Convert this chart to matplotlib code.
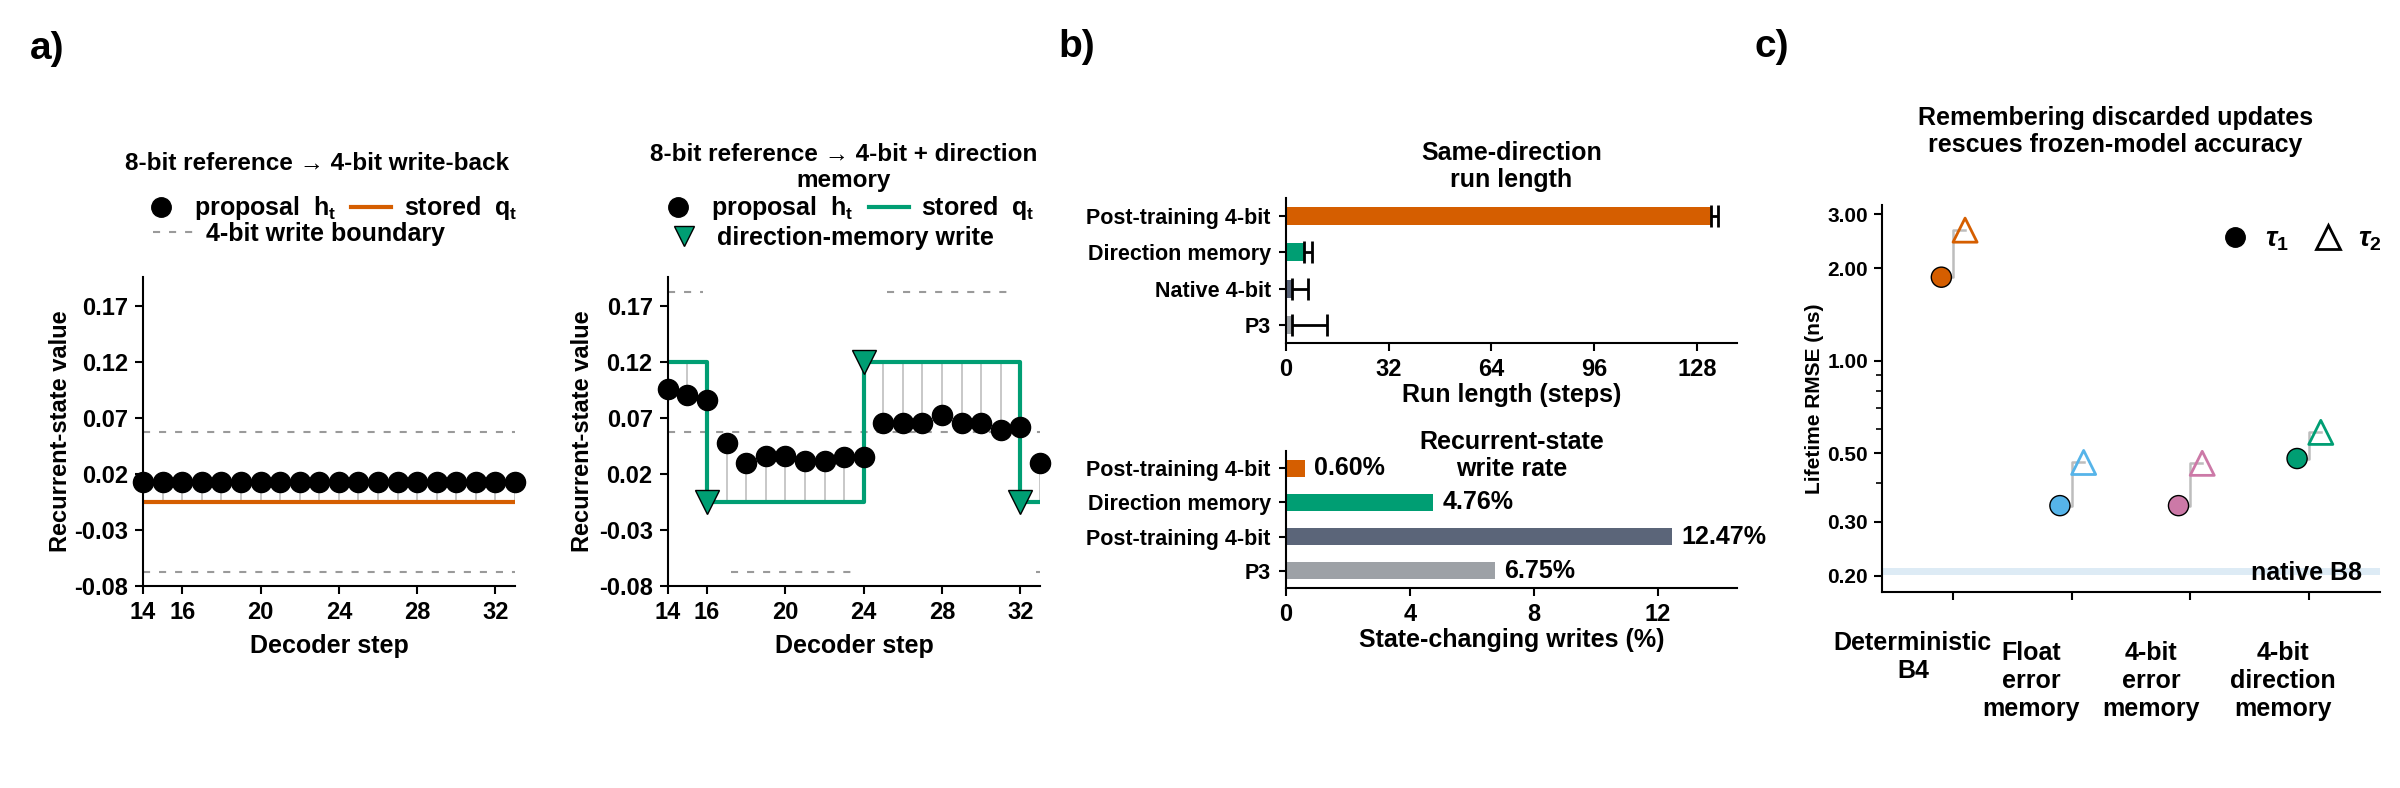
import numpy as np
import matplotlib
matplotlib.use('Agg')
import matplotlib.pyplot as plt
from matplotlib.lines import Line2D
from matplotlib.ticker import FixedLocator, NullFormatter, FormatStrFormatter

plt.rcParams['font.family'] = ['Liberation Sans', 'DejaVu Sans']
plt.rcParams['font.weight'] = 'bold'
plt.rcParams['axes.labelweight'] = 'bold'
plt.rcParams['axes.titleweight'] = 'bold'
plt.rcParams['axes.unicode_minus'] = False
plt.rcParams['mathtext.fontset'] = 'custom'
plt.rcParams['mathtext.rm'] = 'Liberation Sans:bold'
plt.rcParams['mathtext.bf'] = 'Liberation Sans:bold'
plt.rcParams['mathtext.it'] = 'Liberation Sans:italic'
plt.rcParams['axes.linewidth'] = 1.5

# ---- data ----
steps = np.arange(14, 34)
prop_wb = [0.013] * 20
stored_wb = [-0.005] * 20
bounds_wb = [(0.0575, 14, 33), (-0.0675, 14, 33)]

prop_dm = [0.096, 0.091, 0.086, 0.048, 0.030, 0.036, 0.036, 0.032, 0.032, 0.035,
           0.0355, 0.066, 0.066, 0.066, 0.073, 0.066, 0.066, 0.059, 0.062, 0.030]
stored_dm = [0.12, 0.12] + [-0.005] * 8 + [0.12] * 8 + [-0.005, -0.005]
write_steps = [16, 24, 32]
bounds_dm = [(0.1825, 14, 15.8), (0.1825, 25.2, 31.6), (0.0575, 14, 33),
             (-0.0675, 17.2, 23.6), (-0.0675, 32.8, 33)]

run_labels = ['Post-training 4-bit', 'Direction memory', 'Native 4-bit', 'P3']
run_len = [132.4, 5.7, 1.8, 1.8]
run_err = [2.2, 2.4, 5.1, 11.0]
rate_labels = ['Post-training 4-bit', 'Direction memory', 'Post-training 4-bit', 'P3']
rate_vals = [0.60, 4.76, 12.47, 6.75]
bar_colors = ['#D55E00', '#009E73', '#5B6579', '#9DA1A6']

methods = ['Deterministic\nB4', 'Float\nerror\nmemory', '4-bit\nerror\nmemory',
           '4-bit\ndirection\nmemory']
tau1 = [1.87, 0.338, 0.338, 0.481]
tau2 = [2.66, 0.467, 0.464, 0.585]
method_colors = ['#D55E00', '#56B4E9', '#CC79A7', '#009E73']
native_b8 = (0.2015, 0.212)

ORANGE = '#D55E00'
GREEN = '#009E73'
STEM = '#C4C4C4'
DASH = '#9A9A9A'
DASHES = (0, (3.4, 4.3))

fig = plt.figure(figsize=(24, 7.88), dpi=100)


def state_panel(ax, prop, stored, color, bounds):
    ax.vlines(steps, prop, stored, colors=STEM, lw=1.3, zorder=1)
    for lvl, x0, x1 in bounds:
        ax.hlines(lvl, x0, x1, colors=DASH, linestyles=DASHES, lw=1.5, zorder=1)
    ax.plot(steps, stored, drawstyle='steps-post', color=color, lw=3, zorder=2)
    ax.plot(steps, prop, 'o', ms=14.5, color='black', zorder=4, clip_on=False)
    ax.set_xlim(14, 33)
    ax.set_ylim(-0.08, 0.196)
    ax.set_xticks([14, 16, 20, 24, 28, 32])
    ax.set_yticks([-0.08, -0.03, 0.02, 0.07, 0.12, 0.17])
    ax.yaxis.set_major_formatter(FormatStrFormatter('%.2f'))
    ax.tick_params(labelsize=17, length=6, width=1.5, pad=5)
    for s in ['top', 'right']:
        ax.spines[s].set_visible(False)
    ax.set_xlabel('Decoder step', fontsize=18)
    ax.set_ylabel('Recurrent-state value', fontsize=17)
    ax.xaxis.set_label_coords(0.5, -0.155)


h_prop = Line2D([], [], marker='o', ls='none', color='black', ms=14)
lab_prop = 'proposal  $\\mathbf{h}_\\mathbf{t}$'
lab_store = 'stored  $\\mathbf{q}_\\mathbf{t}$'
leg_kw = dict(frameon=False, fontsize=18, handlelength=1.6, handletextpad=0.5,
              columnspacing=0.6, borderpad=0, borderaxespad=0)

# ---- panel a, left ----
ax1 = fig.add_axes([0.0596, 0.2563, 0.155, 0.392])
state_panel(ax1, prop_wb, stored_wb, ORANGE, bounds_wb)
ax1.yaxis.set_label_coords(-0.19, 0.5)
ax1.text(0.468, 1.369, '8-bit reference \u2192 4-bit write-back', transform=ax1.transAxes,
         ha='center', va='center', fontsize=17.5)
lg = ax1.legend([h_prop, Line2D([], [], color=ORANGE, lw=3)], [lab_prop, lab_store],
                ncol=2, loc='center', bbox_to_anchor=(0.5, 1.223), **leg_kw)
ax1.add_artist(lg)
ax1.legend([Line2D([], [], color=DASH, ls=DASHES, lw=1.5)], ['4-bit write boundary'],
           loc='center left', bbox_to_anchor=(0.027, 1.14), **leg_kw)

# ---- panel a, right ----
ax2 = fig.add_axes([0.2783, 0.2563, 0.155, 0.392])
state_panel(ax2, prop_dm, stored_dm, GREEN, bounds_dm)
wq = [stored_dm[list(steps).index(s)] for s in write_steps]
ax2.plot(write_steps, wq, 'v', ms=17, color=GREEN, mec='black', mew=1, zorder=5)
ax2.yaxis.set_label_coords(-0.199, 0.5)
ax2.text(0.473, 1.356, '8-bit reference \u2192 4-bit + direction\nmemory',
         transform=ax2.transAxes, ha='center', va='center', fontsize=17.5, linespacing=1.15)
lg = ax2.legend([h_prop, Line2D([], [], color=GREEN, lw=3)], [lab_prop, lab_store],
                ncol=2, loc='center', bbox_to_anchor=(0.48, 1.223), **leg_kw)
ax2.add_artist(lg)
ax2.legend([Line2D([], [], marker='v', ls='none', color=GREEN, mec='black', ms=15)],
           ['direction-memory write'], loc='center left',
           bbox_to_anchor=(-0.01, 1.126), **leg_kw)

# ---- panel b ----
yb = np.arange(4)
axb1 = fig.add_axes([0.5358, 0.5647, 0.1879, 0.184])
axb1.barh(yb, run_len, height=0.5, color=bar_colors,
          xerr=[np.zeros(4), run_err],
          error_kw=dict(ecolor='black', elinewidth=2, capsize=8, capthick=2))
axb1.set_yticks(yb, run_labels)
axb1.set_ylim(3.5, -0.5)
axb1.set_xlim(0, 140.5)
axb1.set_xticks([0, 32, 64, 96, 128])
axb1.set_title('Same-direction\nrun length', fontsize=18, pad=8, linespacing=1.15)
axb1.set_xlabel('Run length (steps)', fontsize=18)

axb2 = fig.add_axes([0.5358, 0.2538, 0.1879, 0.1739])
axb2.barh(yb, rate_vals, height=0.5, color=bar_colors)
for i, v in enumerate(rate_vals):
    axb2.text(v + 0.3, i, f'{v:.2f}%', ha='left', va='center', fontsize=18)
axb2.set_yticks(yb, rate_labels)
axb2.set_ylim(3.5, -0.5)
axb2.set_xlim(0, 14.55)
axb2.set_xticks([0, 4, 8, 12])
axb2.text(0.5, 1.15, 'Recurrent-state\nwrite rate', transform=axb2.transAxes,
          ha='center', va='top', fontsize=18, linespacing=1.15)
axb2.set_xlabel('State-changing writes (%)', fontsize=18)
for ax in (axb1, axb2):
    for s in ['top', 'right']:
        ax.spines[s].set_visible(False)
    ax.tick_params(axis='x', labelsize=17, length=6, width=1.5, pad=5)
    ax.tick_params(axis='y', labelsize=15.5, length=5, width=1.5, pad=6)
    ax.xaxis.labelpad = 1

# ---- panel c ----
axc = fig.add_axes([0.7842, 0.2487, 0.2075, 0.4911])
axc.set_yscale('log')
axc.axhspan(native_b8[0], native_b8[1], color='#DDEBF5', lw=0, zorder=0)
xc = np.arange(len(methods))
for i in range(len(methods)):
    axc.plot([xc[i] - 0.1, xc[i] + 0.1], [tau1[i], tau2[i]], drawstyle='steps-mid',
             color='#BDBDBD', lw=1.8, zorder=1)
axc.scatter(xc - 0.1, tau1, s=210, c=method_colors, edgecolors='black', linewidths=1,
            zorder=3)
axc.scatter(xc + 0.1, tau2, s=300, marker='^', facecolors='none',
            edgecolors=method_colors, linewidths=2, zorder=3)
axc.set_xlim(-0.6, 3.6)
axc.set_ylim(0.177, 3.21)
axc.yaxis.set_major_locator(FixedLocator([0.2, 0.3, 0.5, 1.0, 2.0, 3.0]))
axc.yaxis.set_major_formatter(FormatStrFormatter('%.2f'))
axc.yaxis.set_minor_locator(FixedLocator([0.4, 0.6, 0.7, 0.8, 0.9]))
axc.yaxis.set_minor_formatter(NullFormatter())
axc.set_xticks(xc)
axc.set_xticklabels([])
axc.tick_params(labelsize=15, length=6, width=1.5, pad=4)
axc.tick_params(which='minor', length=4, width=1.2)
for s in ['top', 'right']:
    axc.spines[s].set_visible(False)
axc.set_ylabel('Lifetime RMSE (ns)', fontsize=15)
axc.yaxis.set_label_coords(-0.116, 0.5)
axc.text(0.964, 0.204, 'native B8', transform=axc.get_yaxis_transform(),
         ha='right', va='center', fontsize=18)
lab_dx = [-0.34, -0.34, -0.33, -0.22]
lab_top = [-0.101, -0.127, -0.127, -0.127]
for i, m in enumerate(methods):
    axc.text(xc[i] + lab_dx[i], lab_top[i], m, transform=axc.get_xaxis_transform(),
             ha='center', va='top', fontsize=18, multialignment='center')
axc.text(0.468, 1.191, 'Remembering discarded updates\nrescues frozen-model accuracy',
         transform=axc.transAxes, ha='center', va='center', fontsize=18, linespacing=1.15)
axc.legend([Line2D([], [], marker='o', ls='none', color='black', ms=14),
            Line2D([], [], marker='^', ls='none', mfc='none', mec='black', mew=2, ms=17)],
           ['$\\tau_\\mathbf{1}$', '$\\tau_\\mathbf{2}$'], ncol=2, loc='center',
           bbox_to_anchor=(0.839, 0.91), frameon=False, fontsize=20, handlelength=1.2,
           handletextpad=0.5, columnspacing=0.8, borderpad=0, borderaxespad=0)

# ---- panel letters ----
for lx, ly, t in [(47, 49, 'a)'), (1077, 47, 'b)'), (1772, 47, 'c)')]:
    fig.text(lx / 2400, 1 - ly / 788, t, ha='center', va='center', fontsize=28)

fig.savefig('out.png', dpi=100)
